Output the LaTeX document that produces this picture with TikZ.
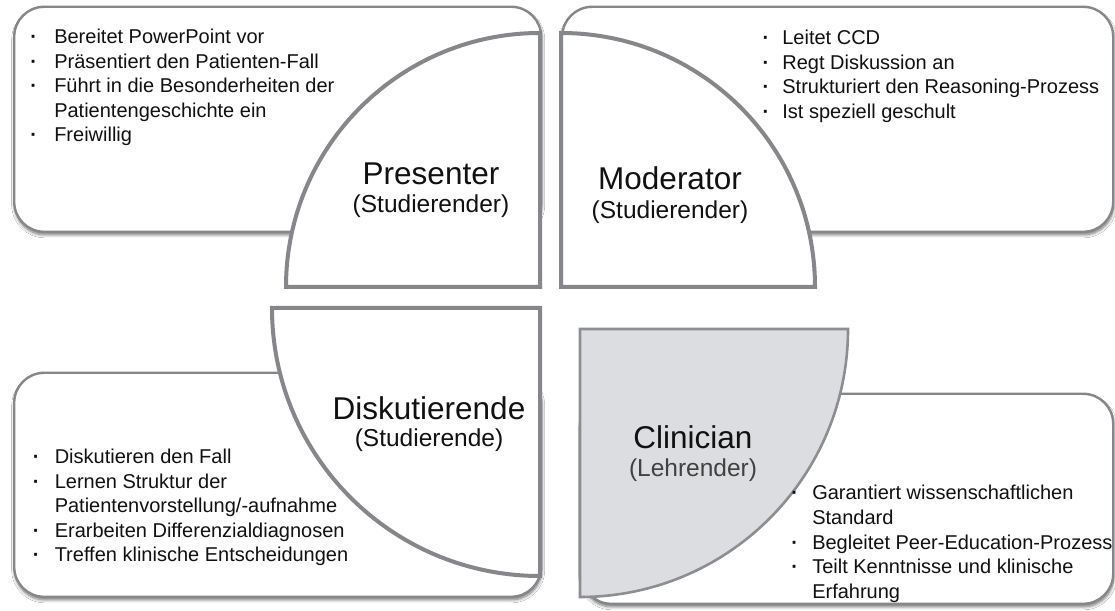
\documentclass[tikz,border=0pt]{standalone}
\usepackage{fontspec}
\setmainfont{Liberation Sans}
\usetikzlibrary{shadows.blur}

\definecolor{edgegray}{HTML}{85878B}
\definecolor{clinfill}{HTML}{DCDDE0}
\definecolor{clinedge}{HTML}{8C8E92}
\definecolor{ink}{HTML}{111111}

\newcommand{\itemdot}{\textbf{·}}

\begin{document}
\begin{tikzpicture}[x=1pt,y=1pt,
  rolebox/.style={draw=edgegray, line width=2.4pt, fill=white,
    rounded corners=30pt, inner sep=0pt, anchor=south west,
    blur shadow={shadow xshift=0.5pt, shadow yshift=-3pt,
      shadow blur radius=3pt, shadow blur steps=8, shadow opacity=55}},
  quarter/.style={draw=edgegray, line width=4pt, fill=white},
  clinquarter/.style={draw=clinedge, line width=2.6pt, fill=clinfill},
  listtext/.style={font=\fontsize{20pt}{24.5pt}\selectfont, text=ink,
    inner sep=0pt, anchor=base west},
  roletitle/.style={font=\fontsize{31.5pt}{36pt}\selectfont, text=ink, inner sep=0pt},
  rolesub/.style={font=\fontsize{24.5pt}{28pt}\selectfont, text=ink, inner sep=0pt}
]
\useasboundingbox (0,0) rectangle (1115,610);
\fill[white] (0,0) rectangle (1115,610);

% text boxes behind the quarter circles
\node[rolebox, minimum width=527pt, minimum height=225pt] (presbox) at (13,377) {};
\node[rolebox, minimum width=551pt, minimum height=225pt] (modbox)  at (561,377) {};
\node[rolebox, minimum width=527pt, minimum height=224pt] (diskbox) at (13,12) {};
\node[rolebox, minimum width=532pt, minimum height=210pt] (clinbox) at (580,5) {};

% quarter circles meeting at the centre
\draw[quarter] (540,323) -- (540,577) arc[start angle=90, end angle=180, radius=254] -- cycle;
\draw[quarter] (561,323) -- (561,577) arc[start angle=90, end angle=0, radius=254] -- cycle;
\draw[quarter] (540,302) -- (272,302) arc[start angle=180, end angle=270, radius=268] -- cycle;
\draw[clinquarter] (580,281) -- (848,281) arc[start angle=0, end angle=-90, radius=268] -- cycle;

% role titles
\node[roletitle] (prestitle) at (431,436) {Presenter};
\node[rolesub]   (pressub)   at (431,404) {(Studierender)};
\node[roletitle] (modtitle)  at (670,432) {Moderator};
\node[rolesub]   (modsub)    at (670,398) {(Studierender)};
\node[roletitle] (disktitle) at (429,202) {Diskutierende};
\node[rolesub]   (disksub)   at (429,170) {(Studierende)};
\node[roletitle] (clintitle) at (693,173) {Clinician};
\node[rolesub, text=ink!80] (clinsub) at (693,140) {(Lehrender)};

% task lists
\node[listtext] (preslist) at (30.2,566) {\begin{tabular}[t]{@{}l@{\hspace{17.2pt}}l@{}}
\itemdot& Bereitet PowerPoint vor\\
\itemdot& Präsentiert den Patienten-Fall\\
\itemdot& Führt in die Besonderheiten der\\
 & Patientengeschichte ein\\
\itemdot& Freiwillig
\end{tabular}};

\node[listtext] (modlist) at (762.5,565) {\begin{tabular}[t]{@{}l@{\hspace{13pt}}l@{}}
\itemdot& Leitet CCD\\
\itemdot& Regt Diskussion an\\
\itemdot& Strukturiert den Reasoning-Prozess\\
\itemdot& Ist speziell geschult
\end{tabular}};

\node[listtext] (disklist) at (32.7,146) {\begin{tabular}[t]{@{}l@{\hspace{15.2pt}}l@{}}
\itemdot& Diskutieren den Fall\\
\itemdot& Lernen Struktur der\\
 & Patientenvorstellung/-aufnahme\\
\itemdot& Erarbeiten Differenzialdiagnosen\\
\itemdot& Treffen klinische Entscheidungen
\end{tabular}};

\node[listtext] (clinlist) at (791.2,110) {\begin{tabular}[t]{@{}l@{\hspace{14.2pt}}l@{}}
\itemdot& Garantiert wissenschaftlichen\\
 & Standard\\
\itemdot& Begleitet Peer-Education-Prozess\\
\itemdot& Teilt Kenntnisse und klinische\\
 & Erfahrung
\end{tabular}};
\end{tikzpicture}
\end{document}
